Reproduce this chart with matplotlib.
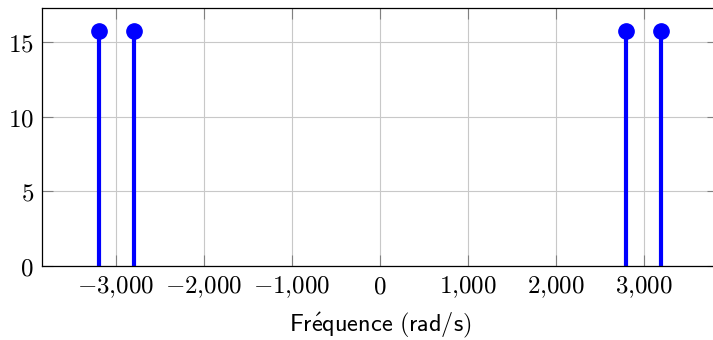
import numpy as np
import matplotlib.pyplot as plt
from matplotlib.ticker import FuncFormatter

# données du spectre
freqs = [-3200, -2800, 2800, 3200]
amps = [5 * np.pi, 5 * np.pi, 5 * np.pi, 5 * np.pi]
xticks = [-3000, -2000, -1000, 0, 1000, 2000, 3000]
yticks = [0, 5, 10, 15]

plt.rcParams['mathtext.fontset'] = 'cm'


def fmt(v, pos):
    s = '{:,.0f}'.format(abs(v)).replace(',', '{,}')
    if v < 0:
        s = '-' + s
    return '$' + s + '$'


fig = plt.figure(figsize=(7.13, 3.4), dpi=100)
ax = fig.add_axes([42.3 / 713, 74 / 340, 675.2 / 713, 258 / 340])

ml, sl, bl = ax.stem(freqs, amps, linefmt='b-', markerfmt='bo', basefmt=' ')
plt.setp(sl, color='#0000ff', linewidth=3)
plt.setp(ml, color='#0000ff', markersize=11)
ml.set_clip_on(False)

ax.set_xlim(-3840, 3840)
ax.set_ylim(0, 17.28)
ax.set_xticks(xticks)
ax.set_yticks(yticks)
ax.xaxis.set_major_formatter(FuncFormatter(fmt))
ax.yaxis.set_major_formatter(FuncFormatter(lambda v, p: '$%d$' % v))
ax.tick_params(direction='in', length=8, width=0.8, color='#808080',
               labelsize=18, top=True, right=True, pad=6)
ax.grid(True, color='#c8c8c8', linewidth=0.8)
ax.set_axisbelow(True)
for s in ax.spines.values():
    s.set_linewidth(0.9)

ax.set_xlabel(r'$\mathsf{Fr\acute{e}quence\ (rad/s)}$', fontsize=17.5, labelpad=8)

plt.savefig('out.png', dpi=100)
